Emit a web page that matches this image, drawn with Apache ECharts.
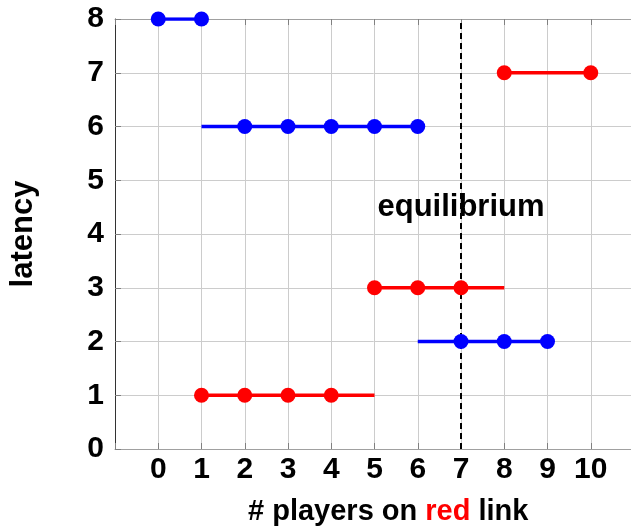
<!DOCTYPE html>
<html>
<head>
<meta charset="utf-8">
<script src="https://cdn.jsdelivr.net/npm/echarts@6/dist/echarts.min.js"></script>
<style>html,body{margin:0;padding:0;background:#fff;}#c{width:631px;height:530px;}</style>
</head>
<body>
<div id="c"></div>
<script>
// Segments (lines) and dots
const blueLines = [
  [[0, 8], [1, 8]],
  [[1, 6], [6, 6]],
  [[6, 2], [9, 2]]
];
const blueDots = [[0, 8], [1, 8], [2, 6], [3, 6], [4, 6], [5, 6], [6, 6], [7, 2], [8, 2], [9, 2]];
const redLines = [
  [[8, 7], [10, 7]],
  [[5, 3], [8, 3]],
  [[1, 1], [5, 1]]
];
const redDots = [[8, 7], [10, 7], [5, 3], [6, 3], [7, 3], [1, 1], [2, 1], [3, 1], [4, 1]];
const equilibriumX = 7;
const equilibriumLabelPos = [7, 4.5];
const xTicks = [0, 1, 2, 3, 4, 5, 6, 7, 8, 9, 10];

const FONT = 'Liberation Sans, Arial, Helvetica, sans-serif';
const BLUE = '#0000ff', RED = '#ff0000';

const series = [];
blueLines.forEach(seg => series.push({type: 'line', data: seg, symbol: 'none', lineStyle: {color: BLUE, width: 3.5}, z: 3, silent: true}));
redLines.forEach(seg => series.push({type: 'line', data: seg, symbol: 'none', lineStyle: {color: RED, width: 3.5}, z: 3, silent: true}));
series.push({type: 'scatter', data: blueDots, symbolSize: 15, itemStyle: {color: BLUE, opacity: 1}, z: 4});
series.push({type: 'scatter', data: redDots, symbolSize: 15, itemStyle: {color: RED, opacity: 1}, z: 4});
series.push({type: 'line', data: [[equilibriumX, 0], [equilibriumX, 8]], symbol: 'none', lineStyle: {color: '#000', width: 2, type: [6, 4]}, z: 2});

const option = {
  animation: false,
  backgroundColor: '#fff',
  grid: {left: 115, top: 19, width: 519, height: 430, containLabel: false, outerBoundsMode: 'none'},
  xAxis: [{
    type: 'value', min: -1, max: 11, interval: 1,
    axisLine: {show: true, onZero: false, lineStyle: {color: '#a0a0a0', width: 1}},
    axisTick: {show: true, inside: true, length: 6, lineStyle: {color: '#808080'}},
    splitLine: {show: true, lineStyle: {color: '#cccccc', width: 1}},
    axisLabel: {margin: 6, color: '#000', fontFamily: FONT, fontWeight: 'bold', fontSize: 30,
      formatter: v => xTicks.indexOf(v) >= 0 ? String(v) : ''}
  }, {
    type: 'value', position: 'top', min: -1, max: 11, interval: 1,
    axisLine: {show: true, onZero: false, lineStyle: {color: '#a0a0a0', width: 1}},
    axisTick: {show: true, inside: true, length: 6, lineStyle: {color: '#808080'}},
    splitLine: {show: false}, axisLabel: {show: false}
  }],
  yAxis: [{
    type: 'value', min: 0, max: 8, interval: 1,
    name: 'latency', nameLocation: 'middle', nameGap: 76,
    nameTextStyle: {color: '#000', fontFamily: FONT, fontWeight: 'bold', fontSize: 31},
    axisLine: {show: true, onZero: false, lineStyle: {color: '#333', width: 1}},
    axisTick: {show: true, inside: true, length: 6, lineStyle: {color: '#808080'}},
    splitLine: {show: true, lineStyle: {color: '#cccccc', width: 1}},
    axisLabel: {margin: 11, color: '#000', fontFamily: FONT, fontWeight: 'bold', fontSize: 30}
  }],
  series: series
};
const chart = echarts.init(document.getElementById('c'), null, {renderer: 'canvas'});
chart.setOption(option);
const p = chart.convertToPixel({xAxisIndex: 0, yAxisIndex: 0}, equilibriumLabelPos);
chart.setOption({graphic: [{
  id: 'xname', type: 'text', left: 248, top: 497, z: 10,
  style: {
    text: '# players on {r|red} link',
    fill: '#000', fontFamily: FONT, fontWeight: 'bold', fontSize: 29,
    rich: {r: {fill: RED, fontFamily: FONT, fontWeight: 'bold', fontSize: 29}}
  }
}, {
  id: 'eq', type: 'text', x: p[0], y: p[1], z: 10,
  style: {text: 'equilibrium', fill: '#000', fontFamily: FONT, fontWeight: 'bold', fontSize: 31, align: 'center', verticalAlign: 'middle'}
}]});
</script>
</body>
</html>
